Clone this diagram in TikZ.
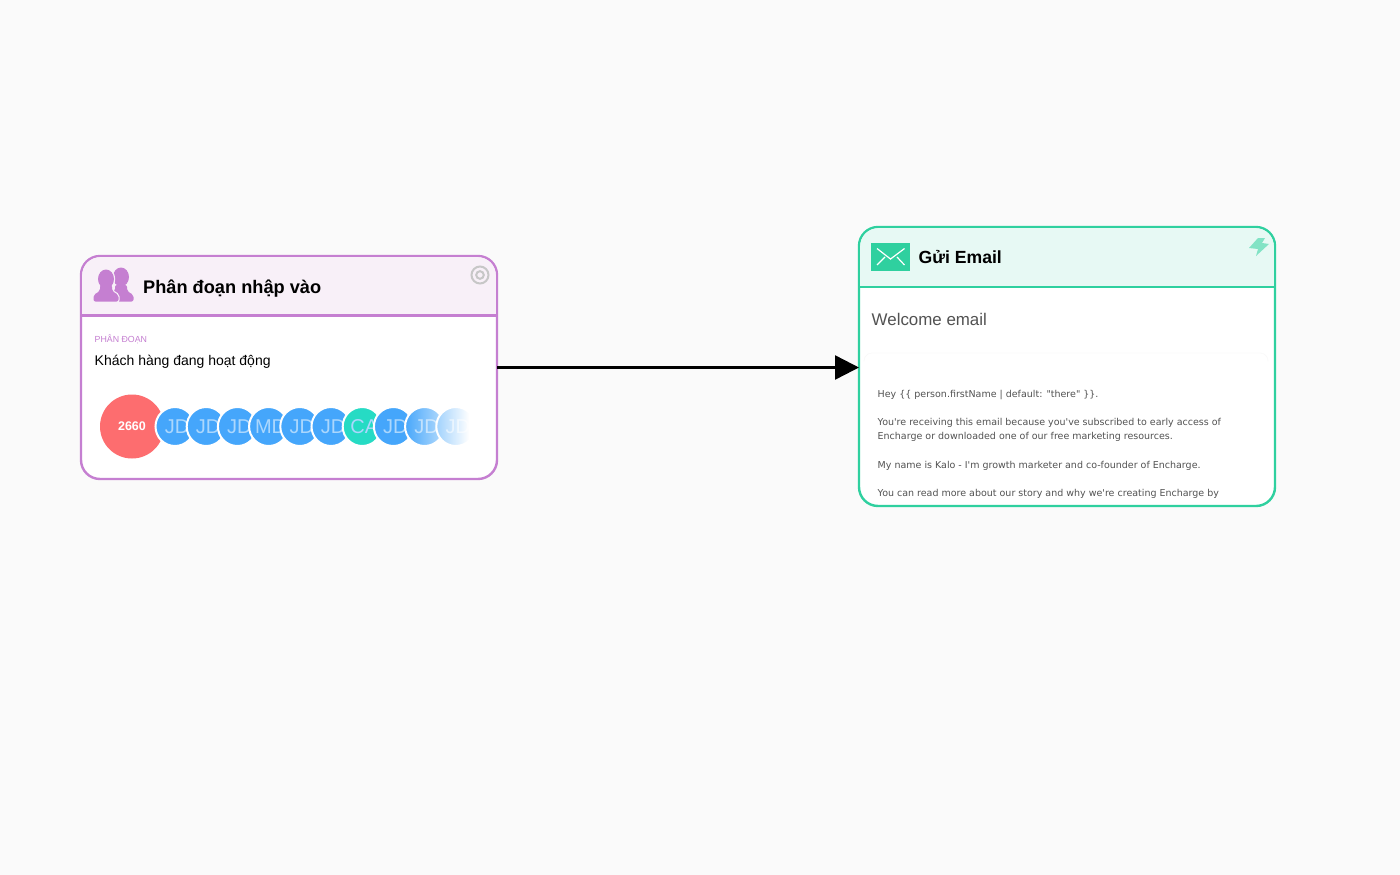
\documentclass[tikz,border=0pt]{standalone}
\usepackage{fontspec}
\setmainfont{Liberation Sans}
\newfontfamily\mailfont{DejaVu Sans}
\usetikzlibrary{arrows.meta,chains,fadings}
\definecolor{pagegray}{HTML}{FAFAFA}
\definecolor{segpurple}{HTML}{C57FD1}
\definecolor{segtint}{HTML}{F8F0F8}
\definecolor{mailgreen}{HTML}{2FD09F}
\definecolor{mailtint}{HTML}{E7F9F4}
\definecolor{avblue}{HTML}{45A6FB}
\definecolor{avteal}{HTML}{26DBC4}
\definecolor{avred}{HTML}{FD6D6F}

\begin{document}
\begin{tikzpicture}[
x=1pt, y=-1pt,
node distance=-7.8pt,
 start chain = A going right,
    card/.style = {rectangle, draw, fill=white, line width=2.4pt,
                rounded corners=19pt, minimum width=416pt, outer sep=0pt},
    avatar/.style = {circle, draw=white, line width=2pt, minimum size=39pt,
                inner sep=0pt, outer sep=0pt, on chain,
                text=white!55!avblue,% light letters on the coloured disc
                font=\fontsize{20}{20}\selectfont},
    title/.style = {anchor=base west, inner sep=0pt,
                font=\bfseries\fontsize{18.2}{18.2}\selectfont},
    mailline/.style = {anchor=base west, inner sep=0pt, text=black!68,
                font=\mailfont\fontsize{9.5}{9.5}\selectfont},
                        ]
\useasboundingbox[fill=pagegray] (0,0) rectangle (1400,875);
% cards
\node[card, draw=segpurple, minimum height=223pt] (segcard) at (289,367.5) {};
\node[card, draw=mailgreen, minimum height=279pt] (mailcard) at (1067,366.5) {};
\fill[segtint] (82.2,314.5) {[rounded corners=18pt] -- (82.2,257.2) -- (495.8,257.2)} -- (495.8,314.5) -- cycle;
\fill[mailtint] (860.2,286) {[rounded corners=18pt] -- (860.2,228.2) -- (1273.8,228.2)} -- (1273.8,286) -- cycle;
\draw[segpurple, line width=2.4pt] (segcard.west |- 0,315.5) -- (segcard.east |- 0,315.5);
\draw[mailgreen, line width=2.4pt] (mailcard.west |- 0,287) -- (mailcard.east |- 0,287);
% people icon
\foreach \x/\y in {121/277, 106/279}{
    \path[fill=segpurple, preaction={draw=segtint, line width=2.4pt}, rounded corners=2pt]
        (\x+12.5,301.5) -- (\x+12.5,295) -- (\x+6,291) -- (\x+6,285) -- (\x-6,285) -- (\x-6,291) -- (\x-12.5,295) -- (\x-12.5,301.5) -- cycle
        [sharp corners] (\x,\y) ellipse (8pt and 9.5pt);
}
\node[title] (segtitle) at (143,293) {Phân đoạn nhập vào};
\draw[black!22, line width=2pt] (480,275) circle (8.5pt) (480,275) circle (3.8pt);
\node[anchor=base west, inner sep=0pt, text=segpurple, font=\fontsize{8.8}{8.8}\selectfont] (seglabel) at (94.5,342) {PHÂN ĐOẠN};
\node[anchor=base west, inner sep=0pt, font=\fontsize{14}{14}\selectfont] (segname) at (94.5,365) {Khách hàng đang hoạt động};
% avatars
\node[circle, fill=avred, minimum size=64pt, inner sep=0pt, text=white,
      font=\bfseries\fontsize{12.5}{12.5}\selectfont] (count) at (132,426.5) {2660};
\node[avatar, fill=avblue] at (175,426.5) {\hspace*{4pt}JD};
\foreach \i/\c in {JD/avblue,JD/avblue,MD/avblue,JD/avblue,JD/avblue,CA/avteal,JD/avblue,JD/avblue,JD/avblue}% <-- content of nodes
    \node[avatar, fill=\c] {\hspace*{4pt}\i};
\fill[white, path fading=west] (404,404) rectangle (469,449);
\fill[white] (468.5,404) rectangle (480,449);
% mail card
\fill[mailgreen] (871,243) rectangle (910,271);
\draw[white, line width=1.2pt] (877,248.5) -- (890.5,259) -- (904.5,248.5)
    (877,265) -- (885,257) (904.5,265) -- (897,257);
\node[title, font=\bfseries\fontsize{17.6}{17.6}\selectfont] (mailtitle) at (918.5,263) {Gửi Email};
\fill[mailgreen!60!white] (1258,238) -- (1265,238) -- (1262,243) -- (1269,244) -- (1256,256) -- (1258,249) -- (1249,248) -- cycle;
\node[anchor=base west, inner sep=0pt, text=black!68, font=\fontsize{16.9}{16.9}\selectfont] (mailname) at (871.5,325) {Welcome email};
\draw[black!3, rounded corners=8pt] (864,361) -- (864,353) -- (1268,353) -- (1268,361);
\foreach \y/\t in {397/{Hey \{\{ person.firstName | default: "there" \}\}.},
                   425/{You're receiving this email because you've subscribed to early access of},
                   439/{Encharge or downloaded one of our free marketing resources.},
                   468/{My name is Kalo - I'm growth marketer and co-founder of Encharge.},
                   496/{You can read more about our story and why we're creating Encharge by}}
    \node[mailline] at (877.5,\y) {\t};
% connector
\draw[line width=2.4pt, -{Triangle[length=24pt,width=24pt]}] (segcard.east) -- (segcard.east -| mailcard.west);
\end{tikzpicture}
\end{document}
